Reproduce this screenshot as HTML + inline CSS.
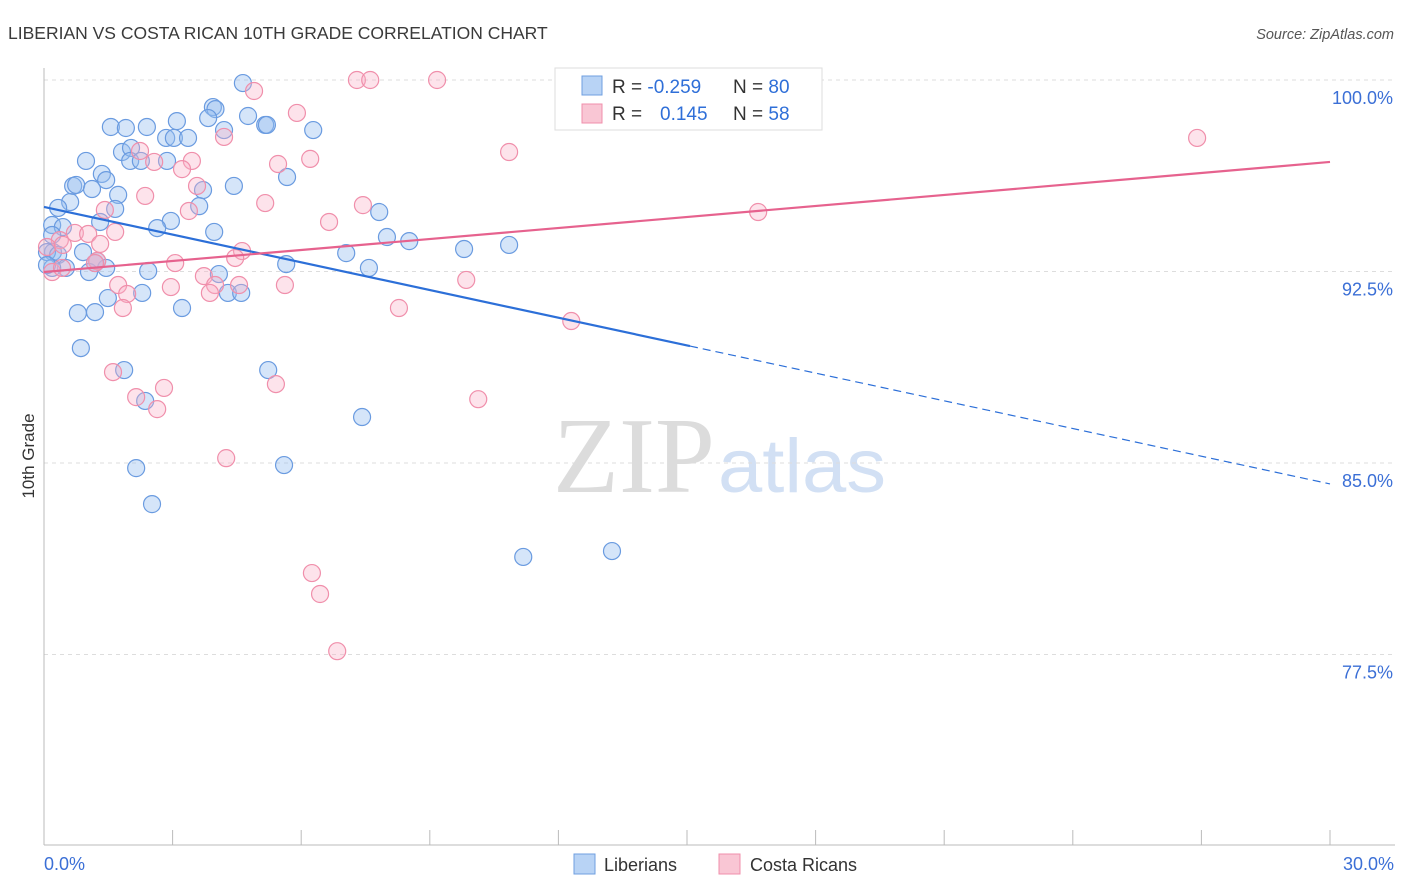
<!DOCTYPE html>
<html><head><meta charset="utf-8"><style>
body{margin:0;background:#fff;width:1406px;height:892px;overflow:hidden;font-family:"Liberation Sans",sans-serif}
</style></head><body>
<svg width="1406" height="892" style="position:absolute;left:0;top:0;font-family:'Liberation Sans',sans-serif">
<text x="8" y="39" font-size="17.5" fill="#3a3a3a">LIBERIAN VS COSTA RICAN 10TH GRADE CORRELATION CHART</text>
<text x="1394" y="39" font-size="14.5" fill="#555" font-style="italic" text-anchor="end">Source: ZipAtlas.com</text>
<g>
<text x="553" y="492" font-size="108" fill="#dcdcdc" font-family="'Liberation Serif',serif" textLength="162" lengthAdjust="spacingAndGlyphs">ZIP</text>
<text x="718" y="492" font-size="76" fill="#d2e0f4" textLength="168" lengthAdjust="spacingAndGlyphs">atlas</text>
</g>
<g id="grid"></g>
<g id="axes"></g>
<g id="pts"></g>
<g id="trend"></g>
<text transform="translate(34,456) rotate(-90)" font-size="17" fill="#333" text-anchor="middle">10th Grade</text>
<g>
<rect x="555" y="68" width="267" height="62" fill="#fff" stroke="#ddd"/>
<rect x="582" y="76" width="20" height="19" fill="#b8d3f5" stroke="#6f9fe0"/>
<rect x="582" y="104" width="20" height="19" fill="#f9c6d4" stroke="#f08fab"/>
<text x="612" y="93" font-size="19" fill="#333">R = <tspan fill="#2f6fd8">-0.259</tspan></text>
<text x="733" y="93" font-size="19" fill="#333">N = <tspan fill="#2f6fd8">80</tspan></text>
<text x="612" y="120" font-size="19" fill="#333">R = </text>
<text x="660" y="120" font-size="19" fill="#2f6fd8">0.145</text>
<text x="733" y="120" font-size="19" fill="#333">N = <tspan fill="#2f6fd8">58</tspan></text>
</g>
<g>
<rect x="574" y="854" width="21" height="20" fill="#b8d3f5" stroke="#6f9fe0"/>
<text x="604" y="871" font-size="18" fill="#333">Liberians</text>
<rect x="719" y="854" width="21" height="20" fill="#f9c6d4" stroke="#f08fab"/>
<text x="750" y="871" font-size="18" fill="#333">Costa Ricans</text>
</g>
</svg>
<script>
const xTicks=[0,3,6,9,12,15,18,21,24,27,30];
const yTicks=[100,92.5,85,77.5];
const yTickLabels=["100.0%","92.5%","85.0%","77.5%"];
const xLabels=["0.0%","30.0%"];
const libX=[4.64,3.94,4.0,3.83,4.76,3.10,5.16,5.20,1.56,1.91,2.40,6.28,4.20,2.85,3.03,3.36,1.82,2.03,2.01,2.26,2.87,0.98,1.35,1.45,0.68,0.75,1.12,1.73,4.43,5.67,3.71,0.61,0.33,1.66,3.62,7.82,1.31,0.19,0.44,2.96,2.64,3.97,8.00,8.52,9.80,10.85,7.05,0.21,0.07,0.33,0.91,1.24,1.45,0.51,1.05,2.43,5.65,7.58,4.08,2.29,4.29,4.60,1.49,3.22,0.79,1.19,0.86,1.87,5.23,2.36,7.42,2.15,5.60,2.52,11.18,13.25,0.19,0.07,1.19,0.19];
const libY=[99.88,98.94,98.86,98.51,98.59,98.39,98.24,98.24,98.16,98.12,98.16,98.04,98.04,97.73,97.73,97.73,97.18,97.34,96.83,96.83,96.83,96.83,96.32,96.08,95.85,95.89,95.73,95.50,95.85,96.20,95.69,95.22,94.99,94.95,95.06,94.83,94.44,94.32,94.24,94.48,94.20,94.05,93.85,93.69,93.38,93.54,93.22,93.26,93.26,93.15,93.26,92.91,92.64,92.64,92.48,92.52,92.79,92.64,92.40,91.66,91.66,91.66,91.46,91.07,90.87,90.91,89.50,88.64,88.64,87.43,86.80,84.80,84.92,83.39,81.32,81.55,92.64,92.75,92.83,93.93];
const crX=[7.30,7.61,9.17,4.90,5.90,4.20,2.24,3.45,2.57,5.46,6.21,3.22,10.85,26.90,3.57,2.36,5.16,7.44,3.38,1.42,16.66,6.65,1.66,0.37,0.72,1.03,0.07,0.44,1.31,4.62,4.46,3.06,0.19,1.24,3.73,1.73,2.96,3.99,4.55,1.94,3.87,5.62,9.85,1.84,8.28,12.30,1.61,2.80,5.41,2.15,2.64,10.13,4.25,6.25,6.44,6.84,0.42,1.19];
const crY=[100,100,100,99.57,98.71,97.77,97.22,96.83,96.79,96.71,96.91,96.51,97.18,97.73,95.85,95.46,95.18,95.10,94.87,94.91,94.83,94.44,94.05,93.73,94.01,93.97,93.46,93.54,93.58,93.30,93.03,92.83,92.48,92.91,92.32,91.97,91.89,91.97,91.97,91.62,91.66,91.97,92.17,91.07,91.07,90.56,88.56,87.94,88.09,87.58,87.11,87.50,85.19,80.69,79.87,77.63,92.64,92.83];
const libTrend=[95.03,84.18];const libSolidEnd=15.07;
const crTrend=[92.48,96.79];
const X=v=>44+v/30*1286;
const Y=v=>80+(100-v)*25.533;
const NS="http://www.w3.org/2000/svg";
function mk(p,t,a){const e=document.createElementNS(NS,t);for(const k in a)e.setAttribute(k,a[k]);document.getElementById(p).appendChild(e);return e;}
yTicks.forEach((v,i)=>{
const l=mk('grid','line',{x1:44,x2:1395,y1:Y(v),y2:Y(v),stroke:'#ddd','stroke-dasharray':'4,4'});


const t=mk('grid','text',{x:1393,y:Y(v)+24,'font-size':18,fill:'#3b6fd6','text-anchor':'end'});t.textContent=yTickLabels[i];


});
const ax=mk('axes','line',{x1:44,x2:44,y1:68,y2:845,stroke:'#bbb'});


const bx=mk('axes','line',{x1:44,x2:1395,y1:845,y2:845,stroke:'#bbb'});


xTicks.forEach(v=>{const t=mk('axes','line',{x1:X(v),x2:X(v),y1:830,y2:845,stroke:'#bbb'});

});
[[0,'start'],[30,'end']].forEach((d,i)=>{const t=mk('axes','text',{x:i?1394:44,y:870,'font-size':18,fill:'#3b6fd6','text-anchor':d[1]});
t.textContent=xLabels[i];

});
libX.forEach((v,i)=>{const c=mk('pts','circle',{cx:X(v),cy:Y(libY[i]),r:8.5,fill:'rgba(150,190,240,0.4)',stroke:'#6a9be0','stroke-width':1.2});

});
crX.forEach((v,i)=>{const c=mk('pts','circle',{cx:X(v),cy:Y(crY[i]),r:8.5,fill:'rgba(248,175,198,0.35)',stroke:'#f08fab','stroke-width':1.2});

});
const f=x=>libTrend[0]+(libTrend[1]-libTrend[0])*x/30;
const l1=mk('trend','line',{x1:X(0),y1:Y(libTrend[0]),x2:X(libSolidEnd),y2:Y(f(libSolidEnd)),stroke:'#2c6fd8','stroke-width':2.2});


const l2=mk('trend','line',{x1:X(libSolidEnd),y1:Y(f(libSolidEnd)),x2:X(30),y2:Y(libTrend[1]),stroke:'#2c6fd8','stroke-width':1.2,'stroke-dasharray':'8,5'});


const l3=mk('trend','line',{x1:X(0),y1:Y(crTrend[0]),x2:X(30),y2:Y(crTrend[1]),stroke:'#e6628e','stroke-width':2.2});


</script>
</body></html>
